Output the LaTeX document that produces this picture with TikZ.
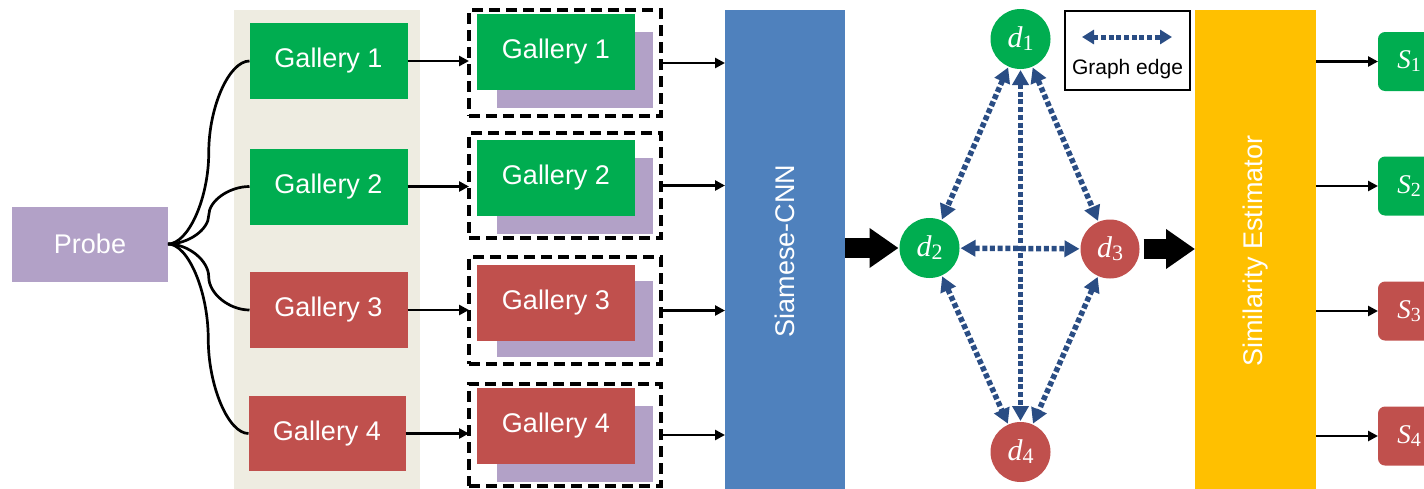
\documentclass[tikz,border=0pt]{standalone}
\usepackage{fontspec}
\setmainfont{Liberation Sans}
\newfontfamily\serifmath{Liberation Serif}
\usetikzlibrary{arrows.meta,calc}

\definecolor{probecol}{HTML}{B2A1C7}
\definecolor{panelcol}{HTML}{EEECE1}
\definecolor{greencol}{HTML}{00AD50}
\definecolor{redcol}{HTML}{C0504D}
\definecolor{cnncol}{HTML}{4F81BD}
\definecolor{simcol}{HTML}{FFC000}
\definecolor{edgecol}{HTML}{2A4D84}

% curved connector from the probe to one gallery image
\newcommand\pconn[2]{%
  \draw[conn] let \p1=(#1), \p2=(#2) in
    (\p1) .. controls ({(3*\x1+\x2)/4},\y1) and ({(\x1+\x2)/2},{(3*\y1+\y2)/4}) ..
    ({(\x1+\x2)/2},{(\y1+\y2)/2}) .. controls ({(\x1+\x2)/2},{(\y1+3*\y2)/4}) and ({(\x1+3*\x2)/4},\y2) ..
    (\p2);}

% italic variable with an upright subscript: #1 size, #2 letter, #3 index size, #4 index
\newcommand\varlab[4]{{\serifmath\fontsize{#1}{#1}\selectfont\itshape #2}%
  \raisebox{-0.3em}{\serifmath\fontsize{#3}{#3}\selectfont #4}}

\tikzset{
  box/.style={rectangle, inner sep=0pt, outer sep=0pt, text=white,
    font=\fontsize{27}{32}\selectfont},
  gal/.style={box, minimum width=158pt, minimum height=76pt},
  back/.style={rectangle, inner sep=0pt, outer sep=0pt, fill=probecol,
    minimum width=156pt, minimum height=76pt},
  dbox/.style={rectangle, draw=black, line width=4.5pt, dash pattern=on 11pt off 6pt,
    inner sep=0pt, outer sep=0pt, minimum width=192pt},
  conn/.style={draw=black, line width=2.7pt},
  thin/.style={draw=black, line width=2.8pt, -{Triangle[length=10pt,width=10pt]}},
  fat/.style={draw=black, line width=20pt, -{Triangle[length=29pt,width=38pt]}},
  dnode/.style={circle, minimum size=60pt, inner sep=0pt, outer sep=1pt, text=white},
  sbox/.style={rectangle, rounded corners=7pt, minimum width=62pt, minimum height=59pt,
    inner sep=0pt, outer sep=0pt, text=white},
  gedge/.style={draw=edgecol, line width=5.5pt, dash pattern=on 5pt off 2.7pt,
    {Triangle[length=15pt,width=16pt]}-{Triangle[length=15pt,width=16pt]}},
}

\begin{document}
\begin{tikzpicture}[x=1pt,y=-1pt]
\clip (0,0) rectangle (1424,488);

% probe and gallery column
\node[box, fill=probecol, minimum width=156pt, minimum height=75pt] (probe) at (90,244) {Probe};
\node[rectangle, fill=panelcol, inner sep=0pt, minimum width=186pt, minimum height=482pt] (panel) at (327,251) {};
\node[gal, fill=greencol] (g1) at (328.5,61) {Gallery 1};
\node[gal, fill=greencol] (g2) at (328.5,186.5) {Gallery 2};
\node[gal, fill=redcol]   (g3) at (328.5,310) {Gallery 3};
\node[gal, fill=redcol, minimum width=157pt, minimum height=75pt] (g4) at (327,433.5) {Gallery 4};

\pconn{probe.east}{g1.west}
\pconn{probe.east}{g2.west}
\pconn{probe.east}{g3.west}
\pconn{probe.east}{g4.west}

% probe/gallery pairs
\node[back] (b1) at (575,70) {};
\node[back] (b2) at (575,195.5) {};
\node[back] (b3) at (575,319) {};
\node[back] (b4) at (575,444) {};
\node[gal, fill=greencol] (f1) at (556,52) {Gallery 1};
\node[gal, fill=greencol] (f2) at (556,177.5) {Gallery 2};
\node[gal, fill=redcol]   (f3) at (556,302.5) {Gallery 3};
\node[gal, fill=redcol]   (f4) at (556,426) {Gallery 4};
\node[dbox, minimum height=106pt] (p1) at (565,63) {};
\node[dbox, minimum height=105pt] (p2) at (565,185.5) {};
\node[dbox, minimum height=107pt] (p3) at (565,310.5) {};
\node[dbox, minimum height=102pt] (p4) at (565,435) {};

\draw[thin] (g1.east) -- (g1.east -| p1.west);
\draw[thin] (g2.east) -- (g2.east -| p2.west);
\draw[thin] (g3.east) -- (g3.east -| p3.west);
\draw[thin] (g4.east) -- (g4.east -| p4.west);

% Siamese network
\node[box, fill=cnncol, minimum width=120pt, minimum height=482pt] (cnn) at (785,251)
  {\rotatebox{90}{Siamese-CNN}};
\draw[thin] (p1.east) -- (p1.east -| cnn.west);
\draw[thin] (p2.east) -- (p2.east -| cnn.west);
\draw[thin] (p3.east) -- (p3.east -| cnn.west);
\draw[thin] (p4.east) -- (p4.east -| cnn.west);

% graph of pair features
\node[dnode, fill=greencol] (d1) at (1020.5,39) {\varlab{30pt}{d}{22pt}{1}};
\node[dnode, fill=greencol] (d2) at (929.5,248) {\varlab{30pt}{d}{22pt}{2}};
\node[dnode, fill=redcol, minimum size=59pt] (d3) at (1110,249) {\varlab{30pt}{d}{22pt}{3}};
\node[dnode, fill=redcol] (d4) at (1020.5,452) {\varlab{30pt}{d}{22pt}{4}};

\draw[gedge] (d1) -- (d2);
\draw[gedge] (d1) -- (d3);
\draw[gedge] (d1) -- (d4);
\draw[gedge] (d2) -- (d3);
\draw[gedge] (d2) -- (d4);
\draw[gedge] (d3) -- (d4);

\draw[fat] (cnn.east |- d2) -- (d2.west);

% legend
\node[rectangle, draw=black, line width=1.5pt, minimum width=125pt, minimum height=79pt,
  inner sep=0pt] (legend) at (1127.5,50.5) {};
\coordinate (la) at (1082,37);
\coordinate (lb) at (1172,37);
\draw[gedge, line width=5pt, {Triangle[length=12pt,width=14pt]}-{Triangle[length=12pt,width=14pt]}] (la) -- (lb);
\node[font=\fontsize{21}{25}\selectfont, text=black, inner sep=0pt] (ltext) at (1127.5,69) {Graph edge};

% similarity estimator and scores
\node[box, fill=simcol, minimum width=121pt, minimum height=482pt] (sim) at (1255.5,251)
  {\rotatebox{90}{Similarity Estimator}};
\draw[fat] ([xshift=3pt]d3.east) -- (sim.west |- d3);

\node[sbox, fill=greencol] (s1) at (1409,61.5) {\varlab{27pt}{S}{20pt}{1}};
\node[sbox, fill=greencol] (s2) at (1409,186) {\varlab{27pt}{S}{20pt}{2}};
\node[sbox, fill=redcol]   (s3) at (1409,311) {\varlab{27pt}{S}{20pt}{3}};
\node[sbox, fill=redcol]   (s4) at (1409,436) {\varlab{27pt}{S}{20pt}{4}};

\draw[thin] (sim.east |- s1) -- (s1.west);
\draw[thin] (sim.east |- s2) -- (s2.west);
\draw[thin] (sim.east |- s3) -- (s3.west);
\draw[thin] (sim.east |- s4) -- (s4.west);
\end{tikzpicture}
\end{document}
